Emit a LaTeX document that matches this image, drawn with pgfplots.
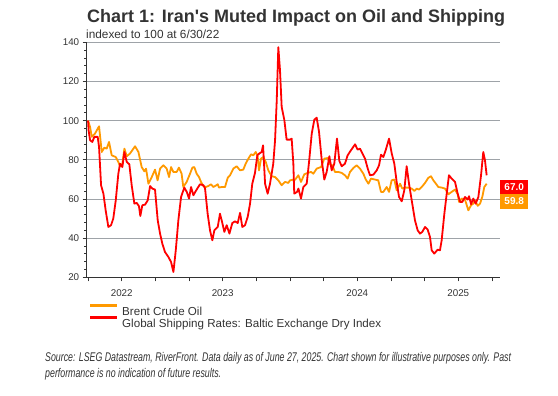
\documentclass[border=0pt]{standalone}
\usepackage{fontspec}
\setmainfont{Liberation Sans}
\newfontfamily\srcfont[FakeStretch=0.7]{Liberation Sans}
\usepackage{pgfplots}
\pgfplotsset{compat=1.18}
\definecolor{brent}{HTML}{FF9900}
\definecolor{bdi}{HTML}{FF0000}
\definecolor{gridc}{HTML}{9EA3A8}
\definecolor{txt}{HTML}{333333}
\pgfplotstableread{
m v
0 100
0.18 96.8
0.33 91.7
0.62 93.4
0.98 97.1
1.22 84
1.45 86.2
1.66 85.7
1.87 89.1
2.11 82.3
2.47 81.4
2.7 78.9
2.85 76.7
3.06 78
3.24 85.7
3.45 81.8
3.74 83.2
4.19 86.9
4.49 84
4.78 76.3
5.02 74.1
5.17 75.5
5.38 67.8
5.68 71.2
5.97 75
6.2 69.5
6.42 75.5
6.71 77.2
7.01 75.5
7.22 71.2
7.4 76.3
7.6 73.8
7.9 73.8
8.1 76
8.34 72.9
8.49 66.1
8.79 68.7
9.09 72.9
9.3 76
9.47 76.3
9.68 72.9
9.89 71.2
10.07 68.7
10.28 66.6
10.49 66.1
10.72 66.6
10.96 67.5
11.17 66.1
11.38 66.8
11.56 67.5
11.67 65.8
11.91 66.1
12.21 66.1
12.45 70.8
12.66 72.1
12.95 75.5
13.25 76.7
13.55 74.6
13.84 75
14.05 78
14.29 80.6
14.53 82.8
14.73 82.3
14.95 84
15.12 81.8
15.24 74.6
15.42 80.6
15.63 81.4
15.84 78.9
16.07 74.6
16.37 71.6
16.67 71.2
16.96 69.5
17.26 67
17.56 68.7
17.85 68.2
18.0 69.5
18.3 69.9
18.45 69.8
18.75 72.1
18.98 68.7
19.28 72.6
19.58 73.3
19.88 73.8
20.08 72.9
20.38 75.5
20.77 76.3
21.06 80.6
21.36 80.9
21.57 77.7
21.77 77.2
22.01 73.8
22.31 73.8
22.61 73.3
22.9 72.1
23.14 70.4
23.35 73.8
23.65 75.8
23.94 77.2
24.24 75.5
24.54 72.9
24.75 70
24.99 67.8
25.22 70.4
25.58 69.9
25.87 69.5
26.11 63.6
26.32 63.6
26.62 66.1
26.83 63.6
27.06 69.5
27.3 69.9
27.51 64.4
27.81 67.8
28.01 65.3
28.25 65.8
28.55 65.8
28.85 65.3
29.09 64.1
29.3 65.3
29.5 64.8
29.74 66.1
30.04 68.2
30.33 70.8
30.57 71.6
30.78 69.5
31.05 67.5
31.22 66.1
31.52 65.8
31.82 65.3
32.12 62.4
32.41 63.6
32.71 64.8
32.95 62.4
33.07 58.5
33.31 60.2
33.6 59.7
33.9 54.2
34.14 56.8
34.34 57.6
34.49 59.3
34.73 56.5
34.94 57.6
35.14 61
35.32 66.1
35.53 67.8
}\brent
\pgfplotstableread{
m v
0 100
0.05 95
0.18 90
0.38 89.1
0.56 91.7
0.86 91.7
0.98 86.6
1.16 67
1.37 62.7
1.57 54.2
1.81 45.7
2.05 46.6
2.25 50
2.47 59.3
2.7 72.9
2.85 78
3.06 76.3
3.24 84
3.45 78.9
3.68 77.7
3.89 67
4.13 57.6
4.34 58
4.54 56.3
4.66 51.3
4.84 56.8
5.08 57.1
5.32 59.3
5.53 66.6
5.73 65.3
5.97 64.8
6.21 49.1
6.42 42.3
6.62 37.2
6.86 32.9
7.16 30.4
7.4 27.8
7.61 22.7
7.82 33.8
8.05 49.1
8.29 61
8.58 65.8
8.8 63.6
9.0 60.2
9.18 66.1
9.39 61.9
9.68 64.8
9.98 67.5
10.28 67
10.43 65.3
10.66 52.5
10.87 44
11.08 38.9
11.26 44
11.56 45.7
11.76 52.5
11.97 47.7
12.15 43.2
12.36 46.6
12.6 42.3
12.86 47.7
13.1 48.6
13.34 47.7
13.55 52.9
13.75 45.7
13.99 46.6
14.23 50.8
14.44 57.6
14.64 67.8
14.88 73.3
15.09 82.3
15.26 83.2
15.48 84
15.6 87.4
15.78 67.8
16.01 62.7
16.22 67.8
16.51 78
16.67 90
16.82 110.4
16.96 137.5
17.11 125.7
17.26 107
17.5 100.2
17.7 90.3
18.0 90.3
18.15 90.8
18.3 78
18.38 62.7
18.63 63.6
18.75 65.3
18.98 60.2
19.19 66.1
19.49 67.8
19.7 78.9
19.94 93.4
20.17 100.5
20.38 101.5
20.59 94.2
20.83 79.8
21.06 69.9
21.27 73.8
21.51 81.8
21.72 74.6
21.95 78
22.19 90.8
22.4 79.4
22.61 76.7
22.9 78
23.14 82.3
23.44 84.9
23.8 87.9
24.03 85.2
24.24 85.7
24.54 82.3
24.69 80.6
24.93 75.5
25.13 72.1
25.43 72.4
25.73 74.6
25.94 77.2
26.11 82.6
26.32 81.4
26.53 84.9
26.83 90.8
27.07 83.2
27.3 78
27.51 68.7
27.72 61
27.96 58.8
28.19 64.4
28.4 76.7
28.61 67.8
28.85 59.3
29.14 49.1
29.38 44
29.59 42.3
29.79 43.2
30.04 45.7
30.27 44.4
30.48 40.6
30.63 33.8
30.86 32.1
31.16 34.1
31.37 33.8
31.52 38.9
31.76 52.5
31.97 62.7
32.17 72.1
32.41 70.4
32.71 68.7
32.95 62.7
33.16 58.5
33.36 58.5
33.6 61
33.84 59.7
33.96 61.4
34.14 57.3
34.34 60.2
34.55 57.6
34.79 61
35.03 72.1
35.23 84
35.38 79.8
35.53 72.1
}\bdi
\begin{document}
\begin{tikzpicture}
\useasboundingbox (0pt,0pt) rectangle (558pt,396pt);
\node[anchor=base west, inner sep=0pt, font=\fontsize{18}{20}\selectfont\bfseries, text=txt] at (87pt,373.3pt) {Chart 1: Iran\textquotesingle s Muted Impact on Oil and Shipping};
\node[anchor=base west, inner sep=0pt, font=\fontsize{11.8}{14}\selectfont, text=txt] at (86pt,357.5pt) {indexed to 100 at 6/30/22};
\begin{axis}[
  at={(86.7pt,118.7pt)}, anchor=south west, scale only axis,
  width=413.3pt, height=235pt,
  xmin=-0.12, xmax=36.72, ymin=20, ymax=140,
  axis x line*=bottom, axis y line*=left,
  axis line style={txt, line width=0.8pt},
  ytick={20,40,...,140}, minor y tick num=4,
  xtick={0,3,...,36},
  xticklabels={,2022,,,2023,,,,2024,,,2025,},
  tick align=outside, major tick length=4pt, minor tick length=2.5pt,
  tick style={txt, line width=0.6pt},
  ymajorgrids, major grid style={gridc, line width=0.8pt},
  tick label style={font=\fontsize{9.8}{11}\selectfont, text=txt},
  /pgf/number format/assume math mode=true,
  xticklabel style={yshift=-5pt},
  clip=false,
  legend style={at={(0.008,-0.117)}, anchor=north west, draw=none, fill=none,
    inner sep=0pt, font=\fontsize{11.6}{13}\selectfont, text=txt,
    row sep=-2pt, column sep=3pt},
  legend cell align=left,
  legend image code/.code={\path[draw=none, fill=none] (0pt,1.5pt) rectangle (27pt,4.5pt);
    \draw[#1, line width=3pt, overlay] (0pt,6.5pt) -- (27pt,6.5pt);},
]
\addplot[brent, line width=1.8pt, line join=round] table[x=m, y=v] {\brent};
\addlegendentry{Brent Crude Oil}
\addplot[bdi, line width=1.8pt, line join=round] table[x=m, y=v] {\bdi};
\addlegendentry{Global Shipping Rates: Baltic Exchange Dry Index}
\node[fill=bdi, text=white, font=\fontsize{10}{10}\selectfont\bfseries, minimum width=28pt, minimum height=14.5pt, inner sep=0pt, anchor=west] at (axis cs:36.72,66.2) {67.0};
\node[fill=brent, text=white, font=\fontsize{10}{10}\selectfont\bfseries, minimum width=28pt, minimum height=14.5pt, inner sep=0pt, anchor=west] at (axis cs:36.72,58.8) {59.8};
\end{axis}
\node[anchor=base west, inner sep=0pt, font=\srcfont\itshape\fontsize{12.6}{14}\selectfont, text=txt] at (45pt,34pt) {Source: LSEG Datastream, RiverFront. Data daily as of June 27, 2025. Chart shown for illustrative purposes only. Past};
\node[anchor=base west, inner sep=0pt, font=\srcfont\itshape\fontsize{12.6}{14}\selectfont, text=txt] at (45pt,18pt) {performance is no indication of future results.};
\end{tikzpicture}
\end{document}
